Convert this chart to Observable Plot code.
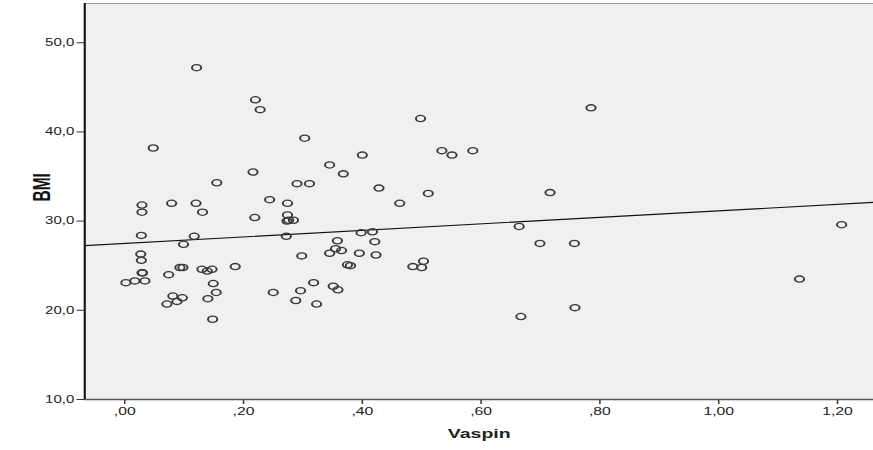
<!DOCTYPE html>
<html>
<head>
<meta charset="utf-8">
<script src="https://cdn.jsdelivr.net/npm/d3@7"></script>
<script src="https://cdn.jsdelivr.net/npm/@observablehq/plot@0.6"></script>
<style>
  body { margin: 0; background: #ffffff; }
  #chart { width: 873px; height: 450px; overflow: hidden; }
</style>
</head>
<body>
<div id="chart"></div>
<script>
// Vaspin (x) and BMI (y) values
const vaspin = [0.002,0.017,0.027,0.028,0.028,0.029,0.030,0.029,0.029,0.034,
  0.048,0.071,0.074,0.079,0.081,0.088,0.093,0.097,0.098,0.099,
  0.117,0.120,0.121,0.130,0.131,0.139,0.140,0.147,0.148,0.149,
  0.154,0.155,0.186,0.216,0.219,0.220,0.228,0.244,0.250,0.272,
  0.274,0.274,0.273,0.276,0.284,0.288,0.290,0.296,0.298,0.303,
  0.311,0.318,0.323,0.345,0.345,0.351,0.355,0.358,0.359,0.365,
  0.368,0.375,0.380,0.395,0.398,0.400,0.417,0.421,0.423,0.428,
  0.463,0.485,0.498,0.500,0.503,0.511,0.534,0.551,0.586,0.664,
  0.667,0.699,0.716,0.757,0.758,0.785,1.136,1.207];
const bmi = [23.1,23.3,26.3,25.6,28.4,24.2,24.2,31.0,31.8,23.3,
  38.2,20.7,24.0,32.0,21.6,21.0,24.8,21.4,24.8,27.4,
  28.3,32.0,47.2,24.6,31.0,24.4,21.3,24.6,19.0,23.0,
  22.0,34.3,24.9,35.5,30.4,43.6,42.5,32.4,22.0,28.3,
  32.0,30.7,30.0,30.1,30.1,21.1,34.2,22.2,26.1,39.3,
  34.2,23.1,20.7,26.4,36.3,22.7,26.9,27.8,22.3,26.7,
  35.3,25.1,25.0,26.4,28.7,37.4,28.8,27.7,26.2,33.7,
  32.0,24.9,41.5,24.8,25.5,33.1,37.9,37.4,37.9,29.4,
  19.3,27.5,33.2,27.5,20.3,42.7,23.5,29.6];
// Fit line coefficients (BMI = intercept + slope * Vaspin)
const fitIntercept = 27.5;
const fitSlope = 3.65;
// Axis ticks
const xTicks = [0, 0.2, 0.4, 0.6, 0.8, 1.0, 1.2];
const yTicks = [10, 20, 30, 40, 50];
const xDomain = [-0.0673, 1.261];
const yDomain = [10, 54.4];

const points = vaspin.map((v, i) => ({x: v, y: bmi[i]}));
const fit = xDomain.map(x => ({x, y: fitIntercept + fitSlope * x}));

const commaFmt = (d, n) => {
  let s = d.toFixed(n).replace(".", ",");
  if (s.startsWith("0,")) s = s.slice(1);
  return s;
};

const W = 582; // drawn narrow, then stretched to 873 wide like the original
const svg = Plot.plot({
  width: W,
  height: 450,
  marginLeft: 56,
  marginRight: 0,
  marginTop: 3,
  marginBottom: 51,
  style: {fontFamily: "'Liberation Sans', Arial, sans-serif", background: "transparent"},
  x: {domain: xDomain, ticks: xTicks, tickFormat: d => commaFmt(d, 2)},
  y: {domain: yDomain, ticks: yTicks, tickFormat: d => commaFmt(d, 1)},
  marks: [
    Plot.frame({fill: "#f0f0f0", stroke: null}),
    Plot.ruleY([yDomain[1]], {stroke: "#9a9a9a", strokeWidth: 1}),
    Plot.axisX({ticks: xTicks, tickFormat: d => commaFmt(d, 2), tickSize: 5, tickPadding: 3,
      fontSize: 10.5, stroke: "#333", fill: "#222", label: null}),
    Plot.axisY({ticks: yTicks, tickFormat: d => commaFmt(d, 1), tickSize: 5, tickPadding: 2,
      fontSize: 10, stroke: "#333", fill: "#222", label: null}),
    Plot.ruleY([yDomain[0]], {stroke: "#555", strokeWidth: 1.3}),
    Plot.ruleX([xDomain[0]], {stroke: "#111", strokeWidth: 1.4}),
    Plot.line(fit, {x: "x", y: "y", stroke: "#111", strokeWidth: 1.1}),
    Plot.dot(points, {x: "x", y: "y", r: 3.1, stroke: "#3a3a3a", strokeWidth: 1.3, fill: "none"}),
    Plot.text(["BMI"], {frameAnchor: "left", dx: -28, rotate: -90, fontWeight: "bold",
      fontSize: 15.5, fill: "#111", fontFamily: "'Liberation Sans Narrow', 'Arial Narrow', 'Liberation Sans', sans-serif"}),
    Plot.text(["Vaspin"], {frameAnchor: "bottom", dy: 38, fontWeight: "bold", fontSize: 13, fill: "#222"})
  ]
});
svg.setAttribute("width", 873);
svg.setAttribute("height", 450);
svg.setAttribute("preserveAspectRatio", "none");
svg.style.width = "873px";
svg.style.height = "450px";
svg.style.maxWidth = "none";
document.getElementById("chart").appendChild(svg);
</script>
</body>
</html>
